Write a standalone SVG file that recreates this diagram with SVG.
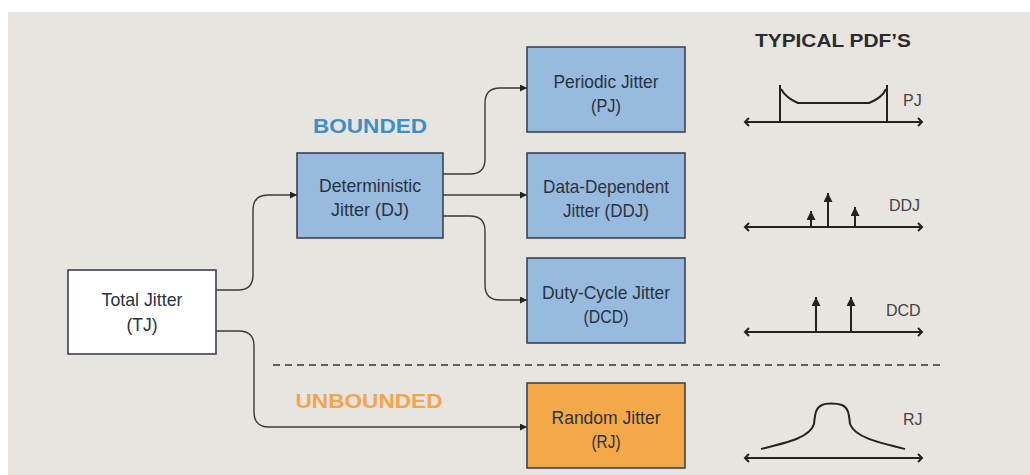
<svg xmlns="http://www.w3.org/2000/svg" width="1030" height="475" viewBox="0 0 1030 475">
  <defs>
    <style>
      .node rect { stroke: #3b4350; stroke-width: 1.6; }
      .blue rect { fill: #97bade; }
      .orange rect { fill: #f5a848; }
      .white rect { fill: #ffffff; }
      .label { font-family: "Liberation Sans", Arial, sans-serif; font-size: 19px; fill: #2a3341; text-anchor: middle; }
      .head { font-family: "Liberation Sans", Arial, sans-serif; font-weight: bold; font-size: 21px; text-anchor: middle; }
      .conn path { fill: none; stroke: #3a3a3a; stroke-width: 1.4; }
      .pdf path, .pdf line { fill: none; stroke: #222; stroke-width: 2; }
      .pdfl { font-family: "Liberation Sans", Arial, sans-serif; font-size: 16px; fill: #444; }
    </style>
    <marker id="arr" viewBox="0 0 10 10" refX="10" refY="5" markerWidth="10" markerHeight="7" markerUnits="userSpaceOnUse" orient="auto">
      <path d="M0,0 L10,5 L0,10 z" fill="#222"/>
    </marker>
    <marker id="spike" viewBox="0 0 10 10" refX="5" refY="0" markerWidth="9" markerHeight="10" markerUnits="userSpaceOnUse" orient="0">
      <path d="M5,0 L10,10 L0,10 z" fill="#222"/>
    </marker>
  </defs>

  <!-- panel background -->
  <rect x="0" y="0" width="1030" height="475" fill="#ffffff"/>
  <rect x="8" y="12" width="1022" height="463" fill="#e8e5e0"/>

  <!-- section headings -->
  <text class="head" x="370" y="133" fill="#3e8fc6" textLength="114" lengthAdjust="spacingAndGlyphs">BOUNDED</text>
  <text class="head" x="369" y="408" fill="#f2a54c" textLength="147" lengthAdjust="spacingAndGlyphs">UNBOUNDED</text>
  <text x="833" y="47" font-family="Liberation Sans, Arial, sans-serif" font-weight="bold" font-size="19" fill="#2b2b2b" text-anchor="middle" textLength="156" lengthAdjust="spacingAndGlyphs">TYPICAL PDF’S</text>

  <!-- dashed divider -->
  <line x1="273" y1="365" x2="943" y2="365" stroke="#333" stroke-width="1.4" stroke-dasharray="7,5"/>

  <!-- connectors -->
  <g class="conn">
    <path d="M216,290 H238 Q253,290 253,275 V210 Q253,195 268,195 H297" marker-end="url(#arr)"/>
    <path d="M216,331 H239 Q254,331 254,346 V412 Q254,427 269,427 H527" marker-end="url(#arr)"/>
    <path d="M443,174 H470 Q485,174 485,159 V103 Q485,88 500,88 H527" marker-end="url(#arr)"/>
    <path d="M443,195 H527" marker-end="url(#arr)"/>
    <path d="M443,216 H470 Q485,216 485,231 V285 Q485,300 500,300 H527" marker-end="url(#arr)"/>
  </g>

  <!-- nodes -->
  <g id="tj" class="node white">
    <rect x="68" y="270" width="148" height="84"/>
    <text class="label" x="142" y="306" textLength="81" lengthAdjust="spacingAndGlyphs">Total Jitter</text>
    <text class="label" x="142" y="331" textLength="31" lengthAdjust="spacingAndGlyphs">(TJ)</text>
  </g>
  <g id="dj" class="node blue">
    <rect x="297" y="153" width="146" height="85"/>
    <text class="label" x="370" y="192" textLength="102" lengthAdjust="spacingAndGlyphs">Deterministic</text>
    <text class="label" x="370" y="216" textLength="78" lengthAdjust="spacingAndGlyphs">Jitter (DJ)</text>
  </g>
  <g id="pj" class="node blue">
    <rect x="527" y="47" width="158" height="85"/>
    <text class="label" x="606" y="88" textLength="105" lengthAdjust="spacingAndGlyphs">Periodic Jitter</text>
    <text class="label" x="606" y="112" textLength="30" lengthAdjust="spacingAndGlyphs">(PJ)</text>
  </g>
  <g id="ddj" class="node blue">
    <rect x="527" y="153" width="158" height="85"/>
    <text class="label" x="606" y="193" textLength="126" lengthAdjust="spacingAndGlyphs">Data-Dependent</text>
    <text class="label" x="606" y="217" textLength="86" lengthAdjust="spacingAndGlyphs">Jitter (DDJ)</text>
  </g>
  <g id="dcd" class="node blue">
    <rect x="527" y="258" width="158" height="85"/>
    <text class="label" x="606" y="299" textLength="128" lengthAdjust="spacingAndGlyphs">Duty-Cycle Jitter</text>
    <text class="label" x="606" y="323" textLength="45" lengthAdjust="spacingAndGlyphs">(DCD)</text>
  </g>
  <g id="rj" class="node orange">
    <rect x="527" y="383" width="158" height="85"/>
    <text class="label" x="606" y="424" textLength="109" lengthAdjust="spacingAndGlyphs">Random Jitter</text>
    <text class="label" x="606" y="448" textLength="29" lengthAdjust="spacingAndGlyphs">(RJ)</text>
  </g>

  <!-- probability density sketches -->
  <g class="pdf">
    <!-- PJ: bathtub -->
    <line x1="745" y1="122" x2="922" y2="122"/>
    <path d="M749,118 L745,122 L749,126 M918,118 L922,122 L918,126"/>
    <line x1="780" y1="85" x2="780" y2="122"/>
    <line x1="887" y1="85" x2="887" y2="122"/>
    <path d="M781,89 Q786,98 798,103 H869 Q882,98 886,89"/>
    <!-- DDJ: three spikes -->
    <line x1="745" y1="227" x2="922" y2="227"/>
    <path d="M749,223 L745,227 L749,231 M918,223 L922,227 L918,231"/>
    <line x1="811" y1="227" x2="811" y2="211" marker-end="url(#spike)"/>
    <line x1="828" y1="227" x2="828" y2="193" marker-end="url(#spike)"/>
    <line x1="855" y1="227" x2="855" y2="207" marker-end="url(#spike)"/>
    <!-- DCD: two spikes -->
    <line x1="745" y1="332" x2="922" y2="332"/>
    <path d="M749,328 L745,332 L749,336 M918,328 L922,332 L918,336"/>
    <line x1="816" y1="332" x2="816" y2="297" marker-end="url(#spike)"/>
    <line x1="851" y1="332" x2="851" y2="297" marker-end="url(#spike)"/>
    <!-- RJ: gaussian -->
    <line x1="745" y1="458" x2="922" y2="458"/>
    <path d="M749,454 L745,458 L749,462 M918,454 L922,458 L918,462"/>
    <path d="M761,449 C790,442 810,437 814,424 C815,416 815,408 822,405 C826,403 836,403 842,405 C849,408 849,416 850,424 C855,437 876,442 905,449"/>
  </g>
  <text class="pdfl" x="903" y="106">PJ</text>
  <text class="pdfl" x="889" y="211">DDJ</text>
  <text class="pdfl" x="886" y="316">DCD</text>
  <text class="pdfl" x="903" y="425">RJ</text>
</svg>
